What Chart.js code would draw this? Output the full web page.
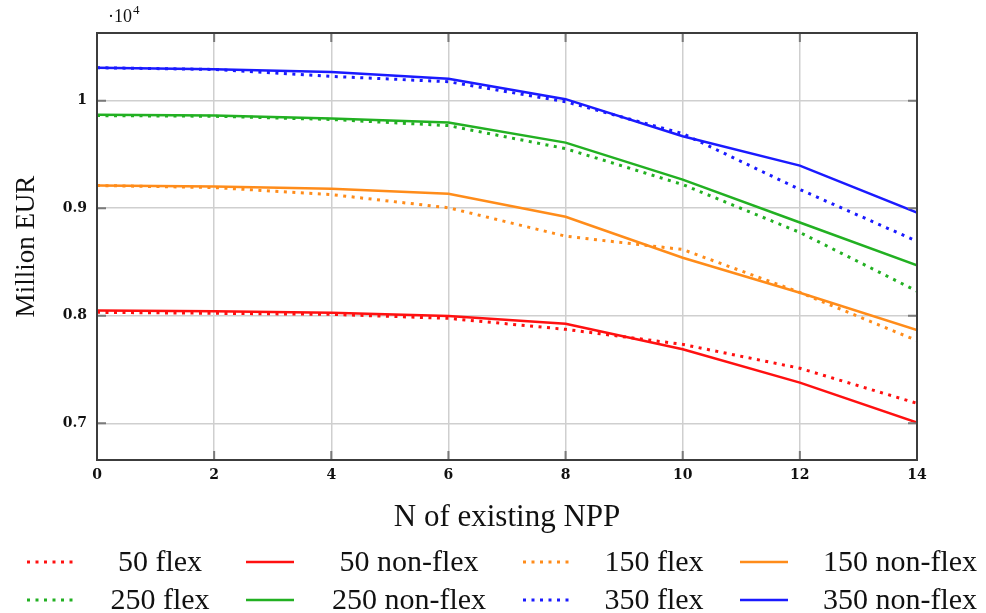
<!DOCTYPE html>
<html>
<head>
<meta charset="utf-8">
<script src="https://cdn.jsdelivr.net/npm/chart.js@4.4.0/dist/chart.umd.min.js"></script>
<style>
    html, body { margin: 0; padding: 0; background: #ffffff; }
    #wrap { width: 986px; height: 613px; position: relative; }
</style>
</head>
<body>
<div id="wrap"><canvas id="costChart"></canvas></div>
<script>
// N of existing NPP
const nppCounts = [0, 2, 4, 6, 8, 10, 12, 14];

// Million EUR
const flex50 = [8032, 8023, 8013, 7976, 7874, 7734, 7512, 7186];
const nonFlex50 = [8050, 8043, 8029, 7997, 7926, 7688, 7378, 7006];
const flex150 = [9211, 9192, 9127, 9004, 8740, 8616, 8217, 7769];
const nonFlex150 = [9211, 9201, 9180, 9134, 8920, 8540, 8214, 7868];
const flex250 = [9861, 9855, 9825, 9768, 9554, 9220, 8775, 8229];
const nonFlex250 = [9870, 9861, 9833, 9796, 9610, 9266, 8867, 8468];
const flex350 = [10306, 10290, 10226, 10176, 9990, 9694, 9174, 8693];
const nonFlex350 = [10306, 10292, 10266, 10204, 10014, 9669, 9396, 8960];

const seriesLabels = ['50 flex', '50 non-flex', '150 flex', '150 non-flex',
                      '250 flex', '250 non-flex', '350 flex', '350 non-flex'];
const yTickValues = [7000, 8000, 9000, 10000];

const SERIF = "'Liberation Serif', 'DejaVu Serif', serif";
const TICK_FONT = { family: "'DejaVu Serif', serif", size: 14, weight: 'bold' };
const DOTS = [3, 5.5];

function series(label, values, color, dotted) {
    return {
        label: label,
        data: values.map((v, i) => ({ x: nppCounts[i], y: v })),
        borderColor: color,
        backgroundColor: color,
        borderWidth: dotted ? 3 : 2.5,
        borderDash: dotted ? DOTS : [],
        pointRadius: 0,
        tension: 0
    };
}

const datasets = [
    series(seriesLabels[0], flex50, '#ff1010', true),
    series(seriesLabels[1], nonFlex50, '#ff1010', false),
    series(seriesLabels[2], flex150, '#ff8c1a', true),
    series(seriesLabels[3], nonFlex150, '#ff8c1a', false),
    series(seriesLabels[4], flex250, '#22b022', true),
    series(seriesLabels[5], nonFlex250, '#22b022', false),
    series(seriesLabels[6], flex350, '#1a1aff', true),
    series(seriesLabels[7], nonFlex350, '#1a1aff', false)
];

// inner tick marks on all four borders (pgfplots style)
const innerTicks = {
    id: 'innerTicks',
    afterDatasetsDraw(chart) {
        const { ctx, chartArea: a, scales } = chart;
        const len = 9;
        ctx.save();
        ctx.strokeStyle = '#7a7a7a';
        ctx.lineWidth = 2;
        ctx.beginPath();
        scales.x.ticks.forEach(t => {
            const px = scales.x.getPixelForValue(t.value);
            ctx.moveTo(px, a.bottom); ctx.lineTo(px, a.bottom - len);
            ctx.moveTo(px, a.top); ctx.lineTo(px, a.top + len);
        });
        scales.y.ticks.forEach(t => {
            const py = scales.y.getPixelForValue(t.value);
            ctx.moveTo(a.left, py); ctx.lineTo(a.left + len, py);
            ctx.moveTo(a.right, py); ctx.lineTo(a.right - len, py);
        });
        ctx.stroke();
        // frame
        ctx.strokeStyle = '#3c3c3c';
        ctx.lineWidth = 2;
        ctx.strokeRect(a.left, a.top, a.right - a.left, a.bottom - a.top);
        // exponent marker
        ctx.fillStyle = '#111';
        ctx.textBaseline = 'alphabetic';
        ctx.font = '18px ' + SERIF;
        ctx.fillText('\u00b710', a.left + 11, 22);
        const w = ctx.measureText('\u00b710').width;
        ctx.font = '13px ' + SERIF;
        ctx.fillText('4', a.left + 12 + w, 14);
        ctx.restore();
    }
};

// four-column legend under the x title
const gridLegend = {
    id: 'gridLegend',
    afterDraw(chart, args, opts) {
        const { ctx } = chart;
        ctx.save();
        ctx.font = opts.font;
        ctx.fillStyle = '#111';
        ctx.textAlign = 'center';
        ctx.textBaseline = 'middle';
        chart.data.datasets.forEach((ds, i) => {
            const col = i % 4;
            const y = opts.rows[Math.floor(i / 4)];
            const sx = opts.sampleX[col];
            ctx.strokeStyle = ds.borderColor;
            ctx.lineWidth = ds.borderWidth;
            ctx.setLineDash(ds.borderDash);
            ctx.beginPath();
            ctx.moveTo(sx - 24, y);
            ctx.lineTo(sx + 24, y);
            ctx.stroke();
            ctx.setLineDash([]);
            ctx.fillText(ds.label, opts.textX[col], y + 1);
        });
        ctx.restore();
    }
};

const config = {
    type: 'line',
    data: { datasets: datasets },
    options: {
        responsive: true,
        maintainAspectRatio: false,
        animation: false,
        layout: { padding: { left: 0, right: 69, top: 33, bottom: 73 } },
        scales: {
            x: {
                type: 'linear',
                min: 0,
                max: 14,
                ticks: {
                    stepSize: 2,
                    padding: 7,
                    color: '#111',
                    font: TICK_FONT
                },
                grid: { color: '#cfcfcf', lineWidth: 1.5, drawTicks: false },
                border: { display: false },
                title: {
                    display: true,
                    text: 'N of existing NPP',
                    color: '#111',
                    font: { family: SERIF, size: 31 },
                    padding: { top: 0, bottom: 4 }
                },
                afterFit(scale) { scale.height = 80; }
            },
            y: {
                min: 6659,
                max: 10629,
                afterBuildTicks(scale) {
                    scale.ticks = yTickValues.map(v => ({ value: v }));
                },
                ticks: {
                    padding: 10,
                    color: '#111',
                    font: TICK_FONT,
                    callback: v => String(Math.round(v / 1000) / 10)
                },
                grid: { color: '#cfcfcf', lineWidth: 1.5, drawTicks: false },
                border: { display: false },
                title: {
                    display: true,
                    text: 'Million EUR',
                    color: '#111',
                    font: { family: SERIF, size: 27 },
                    padding: { top: 11, bottom: 11 }
                },
                afterFit(scale) { scale.width = 97; }
            }
        },
        plugins: {
            legend: { display: false },
            tooltip: { enabled: false },
            gridLegend: {
                font: '30px ' + SERIF,
                rows: [562, 600],
                sampleX: [51, 270, 547, 764],
                textX: [160, 409, 654, 900]
            }
        }
    },
    plugins: [innerTicks, gridLegend]
};

new Chart(document.getElementById('costChart').getContext('2d'), config);
</script>
</body>
</html>
